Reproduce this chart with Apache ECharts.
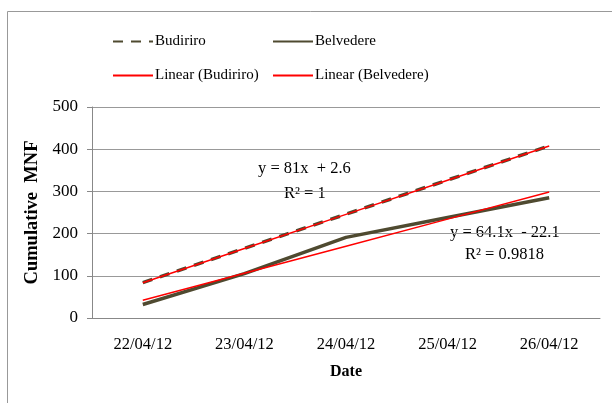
<!DOCTYPE html>
<html>
<head>
<meta charset="utf-8">
<script src="https://cdn.jsdelivr.net/npm/echarts@6/dist/echarts.min.js"></script>
<style>
  body { margin: 0; background: #fff; }
  #chart { width: 612px; height: 403px; }
</style>
</head>
<body>
<div id="chart"></div>
<script>
  const dates = ['22/04/12', '23/04/12', '24/04/12', '25/04/12', '26/04/12']
  const budiriro = [84, 165, 246, 327, 408]
  const belvedere = [32, 105, 191, 238, 285]
  // trendline values
  const linBudiriro = [83.6, 164.6, 245.6, 326.6, 407.6]
  const linBelvedere = [42, 106.1, 170.2, 234.3, 298.4]
  const yTicks = [0, 100, 200, 300, 400, 500]

  const font = 'Liberation Serif'
  const olive = '#4f4a30'
  const noteFont = '16.5px "Liberation Serif"'

  const myChart = echarts.init(document.getElementById('chart'))

  function legendAt(name, left, top) {
    return {
      data: [name], left: left, top: top, itemWidth: 40, itemHeight: 10, itemGap: 0,
      itemStyle: { opacity: 0 },
      textStyle: { fontFamily: font, fontSize: 15, color: '#000', padding: [0, 0, 0, -3] }
    }
  }

  let option = {
    animation: false,
    textStyle: { fontFamily: font },
    legend: [
      legendAt('Budiriro', 107, 29),
      legendAt('Belvedere', 267, 29),
      legendAt('Linear (Budiriro)', 107, 63),
      legendAt('Linear (Belvedere)', 267, 63)
    ],
    grid: { left: 92, right: 12, top: 107, bottom: 85 },
    xAxis: {
      type: 'category',
      data: dates,
      boundaryGap: true,
      name: 'Date',
      nameLocation: 'middle',
      nameGap: 46,
      nameTextStyle: { fontFamily: font, fontSize: 16, fontWeight: 'bold', color: '#000' },
      axisLine: { lineStyle: { color: '#888', width: 1 } },
      axisTick: { length: 5, lineStyle: { color: '#888' } },
      axisLabel: { fontFamily: font, fontSize: 16.5, color: '#000', margin: 18 }
    },
    yAxis: {
      type: 'value',
      min: yTicks[0],
      max: yTicks[yTicks.length - 1],
      interval: 100,
      name: 'Cumulative  MNF',
      nameLocation: 'middle',
      nameGap: 38,
      nameTextStyle: { fontFamily: font, fontSize: 18.5, fontWeight: 'bold', color: '#000' },
      axisLine: { show: true, lineStyle: { color: '#888', width: 1 } },
      axisTick: { show: true, length: 5, lineStyle: { color: '#888' } },
      axisLabel: { fontFamily: font, fontSize: 17, color: '#000', margin: 14 },
      splitLine: { lineStyle: { color: '#999', width: 1 } }
    },
    series: [
      {
        name: 'Budiriro', type: 'line', data: budiriro, symbol: 'none',
        lineStyle: { color: olive, width: 3.5, type: [10, 8] }, itemStyle: { color: olive }
      },
      {
        name: 'Belvedere', type: 'line', data: belvedere, symbol: 'none',
        lineStyle: { color: olive, width: 3.5 }, itemStyle: { color: olive }
      },
      {
        name: 'Linear (Budiriro)', type: 'line', data: linBudiriro, symbol: 'none',
        lineStyle: { color: '#ff0000', width: 1.5 }, itemStyle: { color: '#ff0000' }
      },
      {
        name: 'Linear (Belvedere)', type: 'line', data: linBelvedere, symbol: 'none',
        lineStyle: { color: '#ff0000', width: 1.5 }, itemStyle: { color: '#ff0000' }
      }
    ],
    graphic: [
      {
        type: 'rect', left: 5, top: 9,
        shape: { width: 620, height: 410 },
        style: { fill: 'none', stroke: '#999', lineWidth: 1 }, silent: true, z: -1
      },
      { type: 'text', left: 258, top: 160, style: { text: 'y = 81x  + 2.6', font: noteFont, fill: '#000' } },
      { type: 'text', left: 284, top: 185, style: { text: 'R² = 1', font: noteFont, fill: '#000' } },
      { type: 'text', left: 450, top: 224, style: { text: 'y = 64.1x  - 22.1', font: noteFont, fill: '#000' } },
      { type: 'text', left: 465, top: 246, style: { text: 'R² = 0.9818', font: noteFont, fill: '#000' } }
    ]
  }

  myChart.setOption(option)
</script>
</body>
</html>
